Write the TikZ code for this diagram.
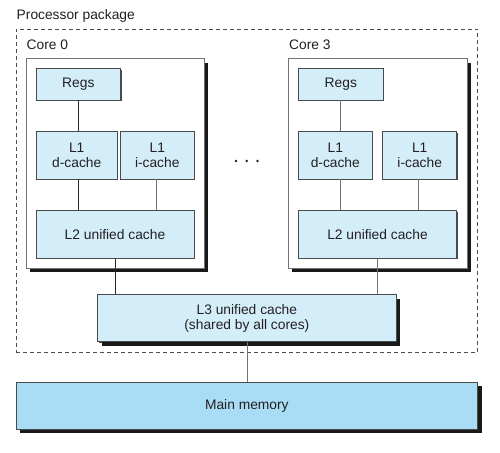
\documentclass[tikz,border=0pt]{standalone}
\usepackage{fontspec}
\setmainfont{Liberation Sans}
\usetikzlibrary{shadows}
\definecolor{lblue}{HTML}{D4EEF9}
\definecolor{mblue}{HTML}{A9DDF5}
\definecolor{txt}{HTML}{231F20}
\definecolor{edge}{HTML}{4A4A4A}
\begin{document}
\begin{tikzpicture}[x=1pt,y=-1pt,
  every node/.style={font=\fontsize{13.8}{15.5}\selectfont, text=txt, align=center, inner sep=0pt},
  cache/.style={draw=edge, line width=0.8pt, fill=lblue,
     drop shadow={shadow xshift=0.8pt, shadow yshift=-0.8pt, fill=black!70, opacity=1}},
  corebox/.style={draw=black!55, line width=0.7pt, fill=white,
     drop shadow={shadow xshift=4pt, shadow yshift=-4pt, fill=black!90, opacity=1}},
  bigbox/.style={draw=edge, line width=0.8pt,
     drop shadow={shadow xshift=4pt, shadow yshift=-4pt, fill=black!90, opacity=1}},
  link/.style={line width=0.8pt, draw=black!85},
  glink/.style={line width=0.7pt, draw=black!55},
  lbl/.style={anchor=base west}
]
\useasboundingbox (0,0) rectangle (500,452);
% processor package
\node[draw=black!70, dashed, dash pattern=on 4pt off 3pt, line width=0.7pt,
  minimum width=461.7pt, minimum height=323.7pt] (pkg) at (246.85,190.85) {};
\node[lbl] (pkglbl) at (16.5,19.5) {Processor package};
% cores
\node[corebox, minimum width=178pt, minimum height=209.3pt] (core0) at (115,163.35) {};
\node[corebox, minimum width=179pt, minimum height=209.3pt] (core3) at (377.8,163.35) {};
\node[lbl] (c0lbl) at (26.5,50) {Core 0};
\node[lbl] (c3lbl) at (289,50) {Core 3};
% core 0
\node[cache, minimum width=84.7pt, minimum height=31.3pt] (regs0) at (78.35,84.35) {Regs};
\node[cache, minimum width=81.5pt, minimum height=47.3pt] (l1d0) at (76.75,155.35) {L1\\d-cache};
\node[cache, minimum width=73.5pt, minimum height=47.3pt] (l1i0) at (157.25,155.35) {L1\\i-cache};
\node[cache, minimum width=158pt, minimum height=47.6pt] (l2a) at (115,234.5) {L2 unified cache};
% core 3
\node[cache, minimum width=85pt, minimum height=31.3pt] (regs3) at (340.8,84.35) {Regs};
\node[cache, minimum width=74pt, minimum height=47.3pt] (l1d3) at (335.3,155.35) {L1\\d-cache};
\node[cache, minimum width=74pt, minimum height=47.3pt] (l1i3) at (419.7,155.35) {L1\\i-cache};
\node[cache, minimum width=158.4pt, minimum height=47.6pt] (l2b) at (377.5,234.5) {L2 unified cache};
% L3 and memory
\node[cache, bigbox, minimum width=298.3pt, minimum height=47pt] (l3) at (246.85,318.2)
  {L3 unified cache\\(shared by all cores)};
\node[bigbox, fill=mblue, minimum width=461.7pt, minimum height=47pt] (mem) at (246.85,405.8) {Main memory};
% dots
\node (dots) at (247,161) {};
\fill[txt] (236,161) circle (1.4pt) (246.7,161) circle (1.4pt) (257.4,161) circle (1.4pt);
% connectors core 0
\draw[link] (regs0.south) -- (regs0.south |- l1d0.north);
\draw[link] (l1d0.south -| regs0.south) -- (l2a.north -| regs0.south);
\draw[glink] ([xshift=-0.95pt]l1i0.south) -- ([xshift=-0.95pt]l1i0.south |- l2a.north);
\draw[link] ([xshift=0.7pt]l2a.south) -- ([xshift=0.7pt]l2a.south |- l3.north);
% connectors core 3
\draw[glink] (regs3.south) -- (regs3.south |- l1d3.north);
\draw[glink] (l1d3.south -| regs3.south) -- (l2b.north -| regs3.south);
\draw[glink] ([xshift=-1.4pt]l1i3.south) -- ([xshift=-1.4pt]l1i3.south |- l2b.north);
\draw[glink] (l2b.south) -- (l2b.south |- l3.north);
% L3 to memory
\draw[glink] (l3.south) -- (mem.north);
\end{tikzpicture}
\end{document}
